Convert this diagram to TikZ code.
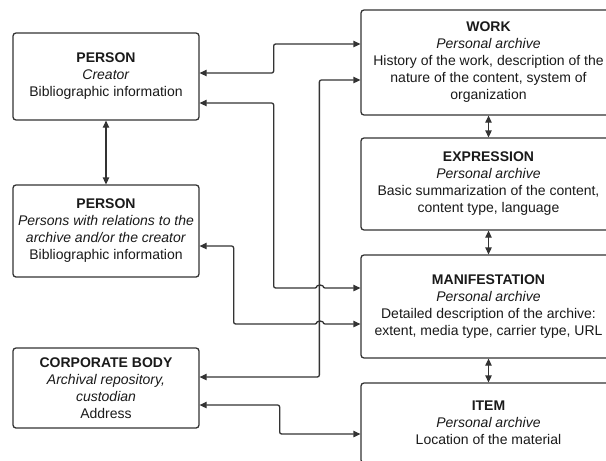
\documentclass[tikz,border=0pt]{standalone}
\usepackage{fontspec}
\setmainfont{Liberation Sans}
\usetikzlibrary{arrows.meta,calc}
\definecolor{ink}{HTML}{333333}
\definecolor{txt}{HTML}{1A1A1A}
\begin{document}
\begin{tikzpicture}[x=1pt,y=-1pt,
  entity/.style={draw=ink, line width=1.3pt, rounded corners=3pt, fill=white,
    text=txt, align=center, inner sep=0pt, font=\fontsize{14}{17}\selectfont},
  leftbox/.style={entity, minimum width=186pt},
  rightbox/.style={entity, minimum width=255pt},
  link/.style={draw=ink, line width=1.3pt, rounded corners=2pt,
    {Triangle[length=7pt,width=6.5pt]}-{Triangle[length=7pt,width=6.5pt]}},
]
\useasboundingbox (0,0) rectangle (606,461);
\fill[white] (0,0) rectangle (606,461);
\clip (0,0) rectangle (606,461);

% agents on the left
\node[leftbox, minimum height=87pt] (p1) at (106,76.5)
  {\textbf{PERSON}\\\textit{Creator}\\Bibliographic information};
\node[leftbox, minimum height=92pt] (p2) at (106,231)
  {\textbf{PERSON}\\\textit{Persons with relations to the}\\\textit{archive and/or the creator}\\Bibliographic information};
\node[leftbox, minimum height=80pt] (cb) at (106,388)
  {\textbf{CORPORATE BODY}\\\textit{Archival repository,}\\\textit{custodian}\\Address};

% group 1 entities on the right
\node[rightbox, minimum height=105pt] (work) at (488.5,62.5)
  {\textbf{WORK}\\\textit{Personal archive}\\History of the work, description of the\\nature of the content, system of\\organization};
\node[rightbox, minimum height=92pt] (expr) at (488.5,184)
  {\textbf{EXPRESSION}\\\textit{Personal archive}\\Basic summarization of the content,\\content type, language};
\node[rightbox, minimum height=103pt] (mani) at (488.5,306.5)
  {\textbf{MANIFESTATION}\\\textit{Personal archive}\\Detailed description of the archive:\\extent, media type, carrier type, URL};
\node[rightbox, minimum height=80pt] (item) at (488.5,423)
  {\textbf{ITEM}\\\textit{Personal archive}\\Location of the material};

% line jumps over the vertical run at x=320
\coordinate (hopB) at (317,288);
\coordinate (hopD) at (317,324);

% vertical links
\draw[link] (p1.south) -- (p2.north);
\draw[link] (work.south) -- (expr.north);
\draw[link] (expr.south) -- (mani.north);
\draw[link] (mani.south) -- (item.north);

% elbow links
\draw[link] ([yshift=3.5pt]p1.east) -- ++(74,0) |- ([yshift=18.5pt]work.west);
\draw[link] ([yshift=-17.5pt]work.west) -- ++(-41,0) |- ([yshift=11pt]cb.east);
\draw[link] ([yshift=-26.5pt]p1.east) -- ++(74,0) |- (hopB)
  arc[start angle=180, end angle=0, radius=3pt] -- ([yshift=18.5pt]mani.west);
\draw[link] ([yshift=-15pt]p2.east) -- ++(34,0) |- (hopD)
  arc[start angle=180, end angle=0, radius=3pt] -- ([yshift=-17.5pt]mani.west);
\draw[link] ([yshift=-17pt]cb.east) -- ++(80,0) |- ([yshift=-11pt]item.west);
\end{tikzpicture}
\end{document}
